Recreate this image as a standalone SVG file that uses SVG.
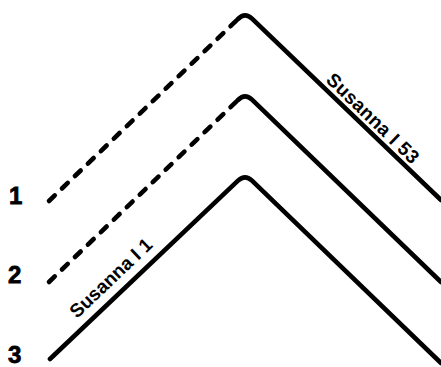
<svg xmlns="http://www.w3.org/2000/svg" width="441" height="367" viewBox="0 0 441 367">
<style>
.ln{fill:none;stroke:#000;stroke-width:4.6;stroke-linecap:round;stroke-linejoin:round}
.ds{stroke-dasharray:8 10}
.num{font-family:"Liberation Sans",Arial,sans-serif;font-weight:bold;font-size:24px;fill:#000;stroke:#000;stroke-width:0.8}
.lab{font-family:"Liberation Sans",Arial,sans-serif;font-weight:bold;font-size:19px;fill:#000}
</style>
<rect width="441" height="367" fill="#fff"/>
<g id="connectors">
  <g id="line1">
    <path class="ln ds" d="M49,201 L238,19"/>
    <path class="ln" d="M238,19 Q245,12 252,18.7 L441,200"/>
  </g>
  <g id="line2">
    <path class="ln ds" d="M49,282 L238,100"/>
    <path class="ln" d="M238,100 Q245,93 252,99.7 L441,282"/>
  </g>
  <g id="line3">
    <path class="ln" d="M50,359 L238,180.7 Q245,174 252,180.7 L441,363"/>
  </g>
</g>
<g id="n1"><text class="num" x="9" y="204">1</text></g>
<g id="n2"><text class="num" x="8" y="283">2</text></g>
<g id="n3"><text class="num" x="8" y="363">3</text></g>
<g id="label53"><text class="lab" transform="translate(325,81) rotate(44)" letter-spacing="0.4">Susanna I 53</text></g>
<g id="label1"><text class="lab" transform="translate(77,319) rotate(-43.5)">Susanna I 1</text></g>
</svg>
